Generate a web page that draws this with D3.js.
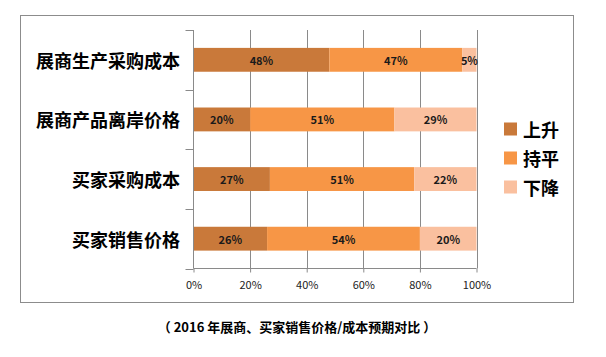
<!DOCTYPE html>
<html><head><meta charset="utf-8">
<script src="https://cdn.jsdelivr.net/npm/d3@7"></script>
<style>body{margin:0;background:#fff;}svg{display:block;}</style>
</head><body>
<svg id="c" width="606" height="357"></svg>
<script>
const categories = ["展商生产采购成本","展商产品离岸价格","买家采购成本","买家销售价格"];
const seriesNames = ["上升","持平","下降"];
const up = [48,20,27,26];
const flat = [47,51,51,54];
const down = [5,29,22,20];
const colors = ["#C9793A","#F79646","#FAC09F"];
const xTicks = [0,20,40,60,80,100];
const title = "（ 2016 年展商、买家销售价格/成本预期对比 ）";

const font = "'Noto Sans CJK SC','Noto Sans',sans-serif";
const svg = d3.select("#c");
svg.append("rect").attr("x",20.5).attr("y",15.5).attr("width",553).attr("height",287)
  .attr("fill","#fff").attr("stroke","#8c8c8c").attr("stroke-width",1);

const x = d3.scaleLinear().domain([0,100]).range([193.5,476.5]);
const y = d3.scaleBand().domain(categories).range([30,268.5]).paddingInner(0.6).paddingOuter(0.3);
const yb = d3.scaleBand().domain(categories).range([30,268.5]);

// gridlines
svg.append("g").selectAll("line").data(xTicks.slice(1)).join("line")
  .attr("x1",d=>Math.round(x(d))+0.5).attr("x2",d=>Math.round(x(d))+0.5)
  .attr("y1",30).attr("y2",268.5).attr("stroke","#8a8a8a");

// stacked data
const rows = categories.map((c,i)=>({cat:c, 上升:up[i], 持平:flat[i], 下降:down[i]}));
const stack = d3.stack().keys(seriesNames)(rows);
const g = svg.append("g");
stack.forEach((s,si)=>{
  g.selectAll(null).data(s).join("rect")
    .attr("x",d=>x(d[0])).attr("width",d=>x(d[1])-x(d[0]))
    .attr("y",d=>y(d.data.cat)).attr("height",y.bandwidth())
    .attr("fill",colors[si]);
  g.selectAll(null).data(s).join("text")
    .attr("x",d=>(x(d[0])+x(d[1]))/2).attr("y",d=>y(d.data.cat)+y.bandwidth()/2)
    .attr("text-anchor","middle").attr("dominant-baseline","central")
    .attr("font-family",font).attr("font-weight","bold").attr("font-size",11)
    .attr("fill","#1a1a1a")
    .text(d=>(d[1]-d[0])+"%");
});

// y axis
const yAxis = d3.axisLeft(yb).tickSize(8).tickFormat("");
const ya = svg.append("g").attr("transform","translate(193.5,0)").call(yAxis);
ya.select(".domain").attr("stroke","#8a8a8a").attr("d","M0,30V268.5");
ya.selectAll(".tick").remove();
const bounds = [30,...categories.map(c=>yb(c)+yb.bandwidth())];
ya.selectAll("line.t").data(bounds).join("line")
  .attr("x1",-8).attr("x2",0).attr("y1",d=>Math.round(d)+0.5).attr("y2",d=>Math.round(d)+0.5)
  .attr("stroke","#8a8a8a");

svg.append("g").selectAll("text").data(categories).join("text")
  .attr("x",180).attr("y",d=>yb(d)+yb.bandwidth()/2)
  .attr("text-anchor","end").attr("dominant-baseline","central")
  .attr("font-family",font).attr("font-weight","bold").attr("font-size",18)
  .attr("fill","#000").text(d=>d);

// x axis
const xAxis = d3.axisBottom(x).tickValues(xTicks).tickSize(4).tickFormat(d=>d+"%");
const xa = svg.append("g").attr("transform","translate(0,268.5)").call(xAxis);
xa.select(".domain").attr("stroke","#8a8a8a").attr("d","M193.5,0H476.5");
xa.selectAll(".tick line").attr("stroke","#8a8a8a");
xa.selectAll(".tick text").attr("font-family",font).attr("font-size",11).attr("fill","#222").attr("dy",0).attr("y",20);

// legend
const lg = svg.append("g");
seriesNames.forEach((n,i)=>{
  const cy = 129 + i*29;
  lg.append("rect").attr("x",504).attr("y",cy-6.5).attr("width",13).attr("height",13).attr("fill",colors[i]);
  lg.append("text").attr("x",523).attr("y",cy).attr("dominant-baseline","central")
    .attr("font-family",font).attr("font-weight","bold").attr("font-size",18).attr("fill","#000").text(n);
});

svg.append("text").attr("x",297).attr("y",326).attr("text-anchor","middle").attr("dominant-baseline","central")
  .attr("font-family",font).attr("font-weight","bold").attr("font-size",13).attr("fill","#000").text(title);
</script>
</body></html>
